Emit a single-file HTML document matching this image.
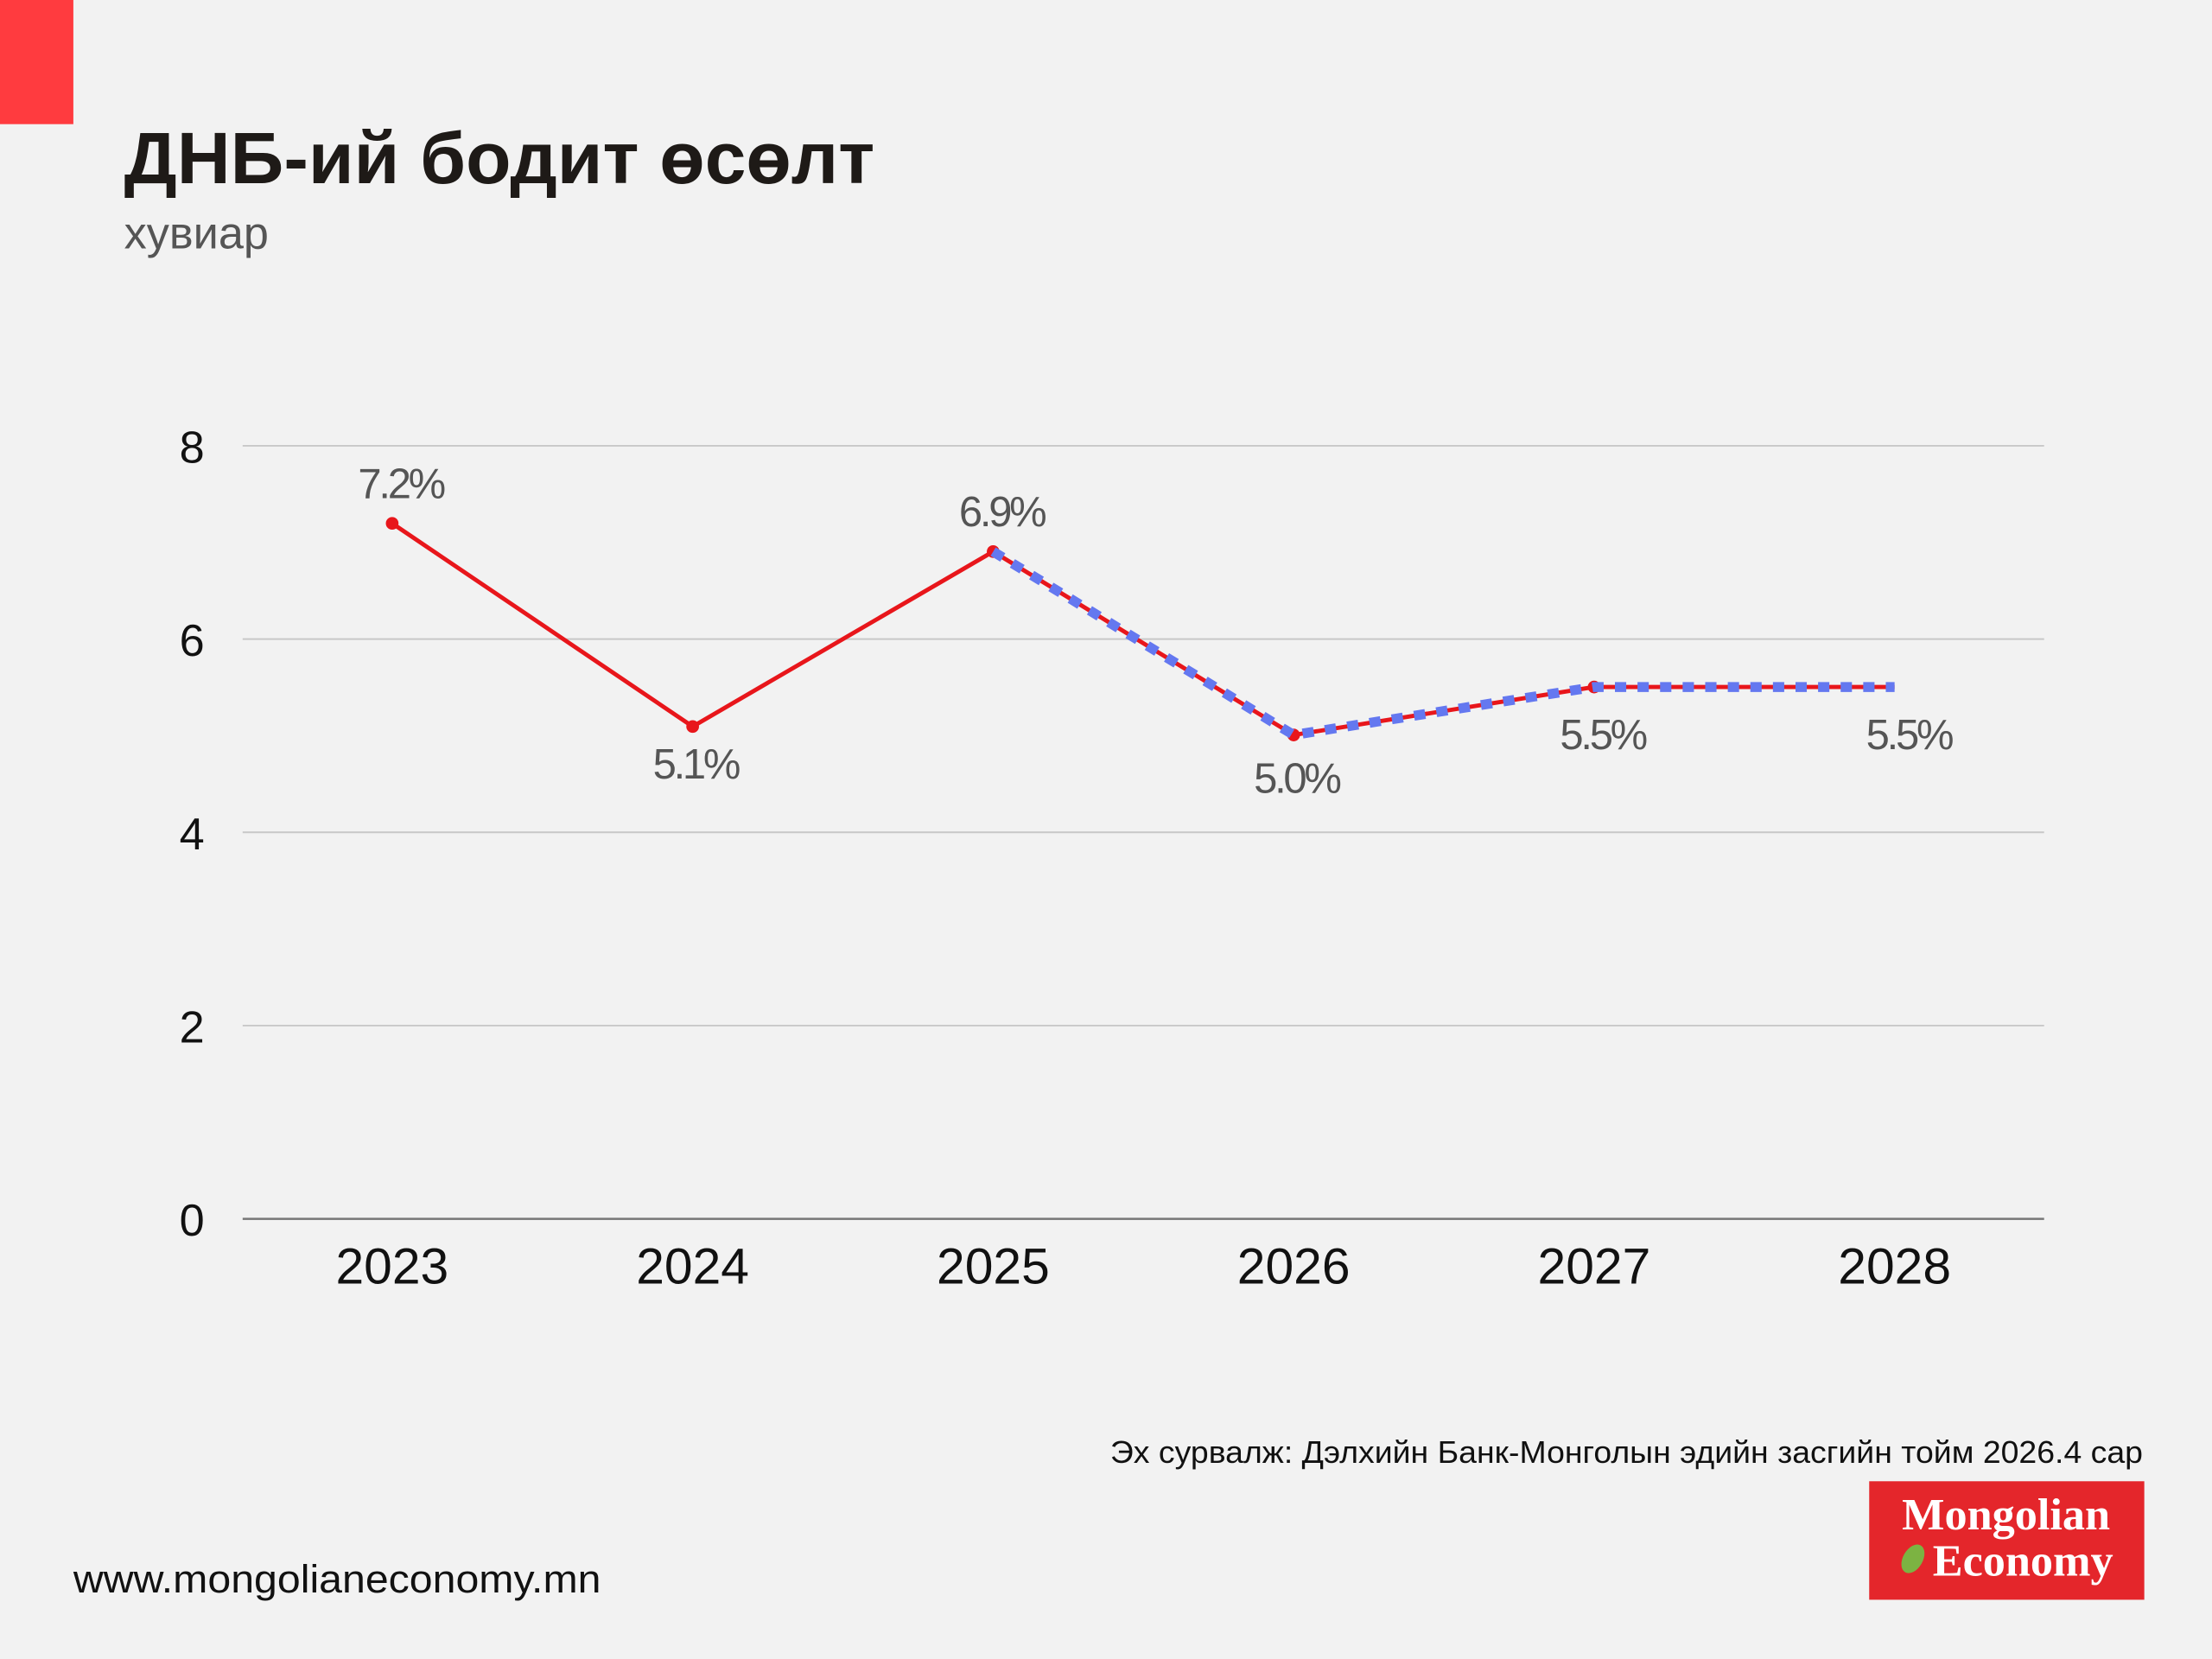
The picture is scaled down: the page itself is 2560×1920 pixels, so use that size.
<!DOCTYPE html>
<html><head><meta charset="utf-8"><style>
html,body{margin:0;padding:0;background:#f2f2f2;}
svg{display:block;}
text{font-family:"Liberation Sans",sans-serif;}
</style></head><body>
<svg width="2560" height="1920" viewBox="0 0 1568 1176" xmlns="http://www.w3.org/2000/svg">
<rect width="1568" height="1176" fill="#f2f2f2"/>
<rect x="0" y="0" width="52" height="88" fill="#ff3b3f"/>
<text x="88" y="130" font-size="52" font-weight="bold" fill="#1e1a17" textLength="532" lengthAdjust="spacingAndGlyphs">ДНБ-ий бодит өсөлт</text>
<text x="88" y="176" font-size="32" fill="#555">хувиар</text>
<g stroke="#c8c8c8" stroke-width="1.2">
<line x1="172" y1="316" x2="1449" y2="316"/>
<line x1="172" y1="453" x2="1449" y2="453"/>
<line x1="172" y1="590" x2="1449" y2="590"/>
<line x1="172" y1="727" x2="1449" y2="727"/>
</g>
<line x1="172" y1="864" x2="1449" y2="864" stroke="#777" stroke-width="1.5"/>
<g font-size="32" fill="#111" text-anchor="end">
<text x="145" y="328">8</text><text x="145" y="465">6</text><text x="145" y="602">4</text><text x="145" y="739">2</text><text x="145" y="876">0</text>
</g>
<g font-size="36" fill="#111" text-anchor="middle">
<text x="278" y="910">2023</text><text x="491" y="910">2024</text><text x="704" y="910">2025</text><text x="917" y="910">2026</text><text x="1130" y="910">2027</text><text x="1343" y="910">2028</text>
</g>
<polyline points="278,371 491,515 704,391 917,521 1130,487 1343,487" fill="none" stroke="#e8161b" stroke-width="3"/>
<g fill="#e8161b"><circle cx="278" cy="371" r="4.5"/><circle cx="491" cy="515" r="4.5"/><circle cx="704" cy="391" r="4.5"/><circle cx="917" cy="521" r="4.5"/><circle cx="1130" cy="487" r="4.5"/></g>
<polyline points="704,391 917,521 1130,487 1343,487" fill="none" stroke="#6478f0" stroke-width="7" stroke-dasharray="8,8"/>
<g font-size="30" fill="#555" text-anchor="middle" letter-spacing="-2">
<text x="284" y="353">7.2%</text><text x="493" y="552">5.1%</text><text x="710" y="373">6.9%</text><text x="919" y="562">5.0%</text><text x="1136" y="531">5.5%</text><text x="1353" y="531">5.5%</text>
</g>
<text x="1519" y="1037" font-size="22" fill="#111" text-anchor="end" textLength="732" lengthAdjust="spacingAndGlyphs">Эх сурвалж: Дэлхийн Банк-Монголын эдийн засгийн тойм 2026.4 сар</text>
<rect x="1325" y="1050" width="195" height="84" fill="#e4262b"/>
<text x="1422" y="1084" font-size="32" font-weight="bold" fill="#fff" text-anchor="middle" style="font-family:'Liberation Serif',serif">Mongolian</text>
<text x="1434" y="1117" font-size="32" font-weight="bold" fill="#fff" text-anchor="middle" style="font-family:'Liberation Serif',serif">Economy</text>
<ellipse cx="1356" cy="1105" rx="7" ry="11" fill="#7cb342" transform="rotate(30 1356 1105)"/>
<text x="52" y="1129" font-size="28" fill="#111" textLength="374" lengthAdjust="spacingAndGlyphs">www.mongolianeconomy.mn</text>
</svg>
</body></html>
